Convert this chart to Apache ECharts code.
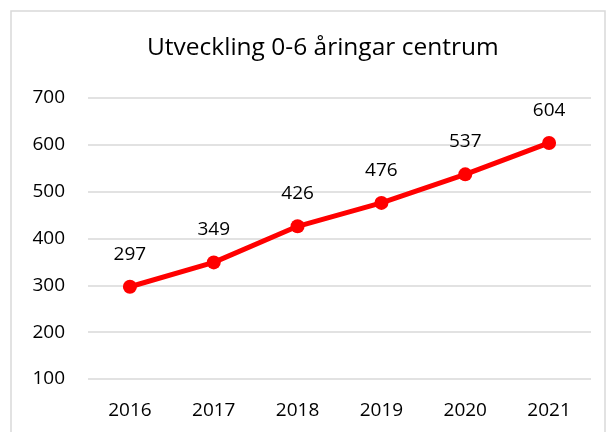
<!DOCTYPE html>
<html lang="sv">
<head>
    <meta charset="UTF-8">
    <title>Utveckling 0-6 åringar centrum</title>
    <script src="https://cdn.jsdelivr.net/npm/echarts@6/dist/echarts.min.js"></script>
    <style>
        html,body{margin:0;padding:0;background:#fff}
        #chart{width:610px;height:432px}
    </style>
</head>
<body>
    <div id="chart"></div>
    <script>
        var years=['2016','2017','2018','2019','2020','2021'];
        var antal=[297,349,426,476,537,604];

        var mychart=echarts.init(document.getElementById('chart'));
        var font='"Open Sans", "Noto Sans", sans-serif';
        var option={
            animation:false,
            graphic:[{
                type:'rect',
                shape:{x:11,y:11,width:594,height:440},
                style:{fill:'none',stroke:'#d9d9d9',lineWidth:1.5}
            }],
            title:{
                text:'Utveckling 0-6 åringar centrum',
                left:142,
                top:31,
                textStyle:{fontFamily:font,fontSize:24.5,fontWeight:'normal',color:'#000'}
            },
            grid:{left:88,right:19,top:98,bottom:53},
            xAxis:{
                type:'category',
                data:years,
                boundaryGap:true,
                axisLine:{show:false},
                axisTick:{show:false},
                axisLabel:{fontFamily:font,fontSize:19,color:'#000',margin:22}
            },
            yAxis:{
                type:'value',
                min:100,
                max:700,
                interval:100,
                axisLine:{show:false},
                axisTick:{show:false},
                axisLabel:{fontFamily:font,fontSize:19,color:'#000',margin:23},
                splitLine:{lineStyle:{color:'#d9d9d9',width:1.5}}
            },
            series:[{
                name:'antal',
                type:'line',
                data:antal,
                symbol:'circle',
                symbolSize:14,
                lineStyle:{color:'#ff0000',width:5},
                itemStyle:{color:'#ff0000'},
                label:{
                    show:true,
                    position:'top',
                    distance:16,
                    fontFamily:font,
                    fontSize:19,
                    color:'#000'
                }
            }]
        };
        mychart.setOption(option);
    </script>
</body>
</html>
